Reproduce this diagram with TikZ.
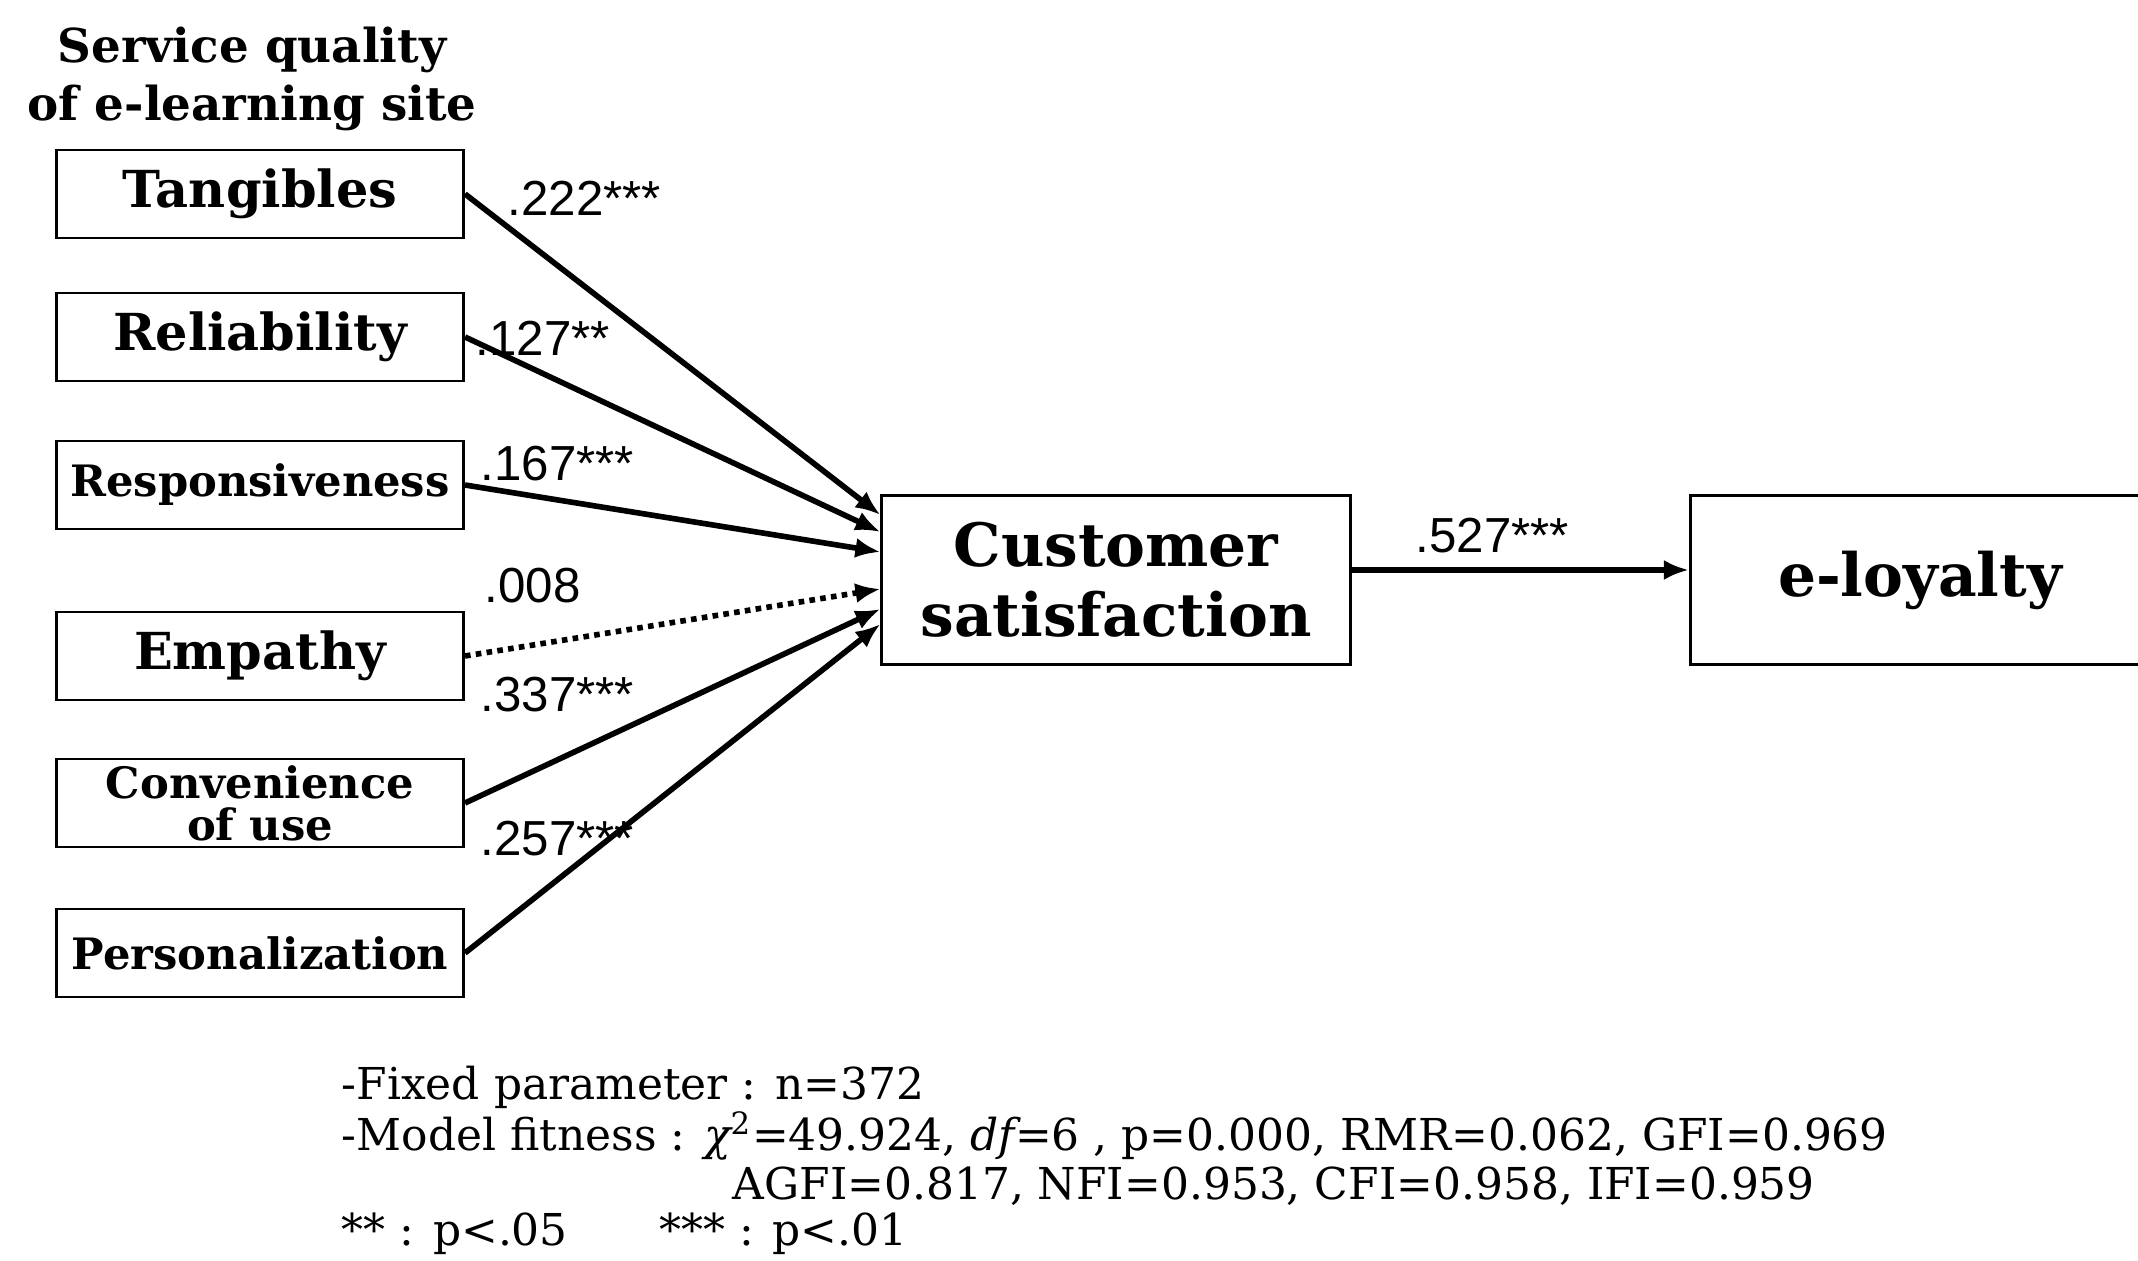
\documentclass[tikz,border=0pt]{standalone}
\usepackage{fontspec}
\newfontfamily\dvserif{DejaVu Serif}
\newfontfamily\lsans{Liberation Sans}
\usetikzlibrary{arrows.meta, positioning}

\begin{document}
\begin{tikzpicture}[
      x=0.01cm, y=-0.01cm,
      box/.style={draw, line width=0.8pt, minimum width=4.07cm, minimum height=0.88cm, inner sep=1pt, align=center, font=\dvserif\bfseries\fontsize{14.5}{14.5}\selectfont},
      narrow/.style={font=\dvserif\bfseries\fontsize{12.3}{12}\selectfont},
      bigbox/.style={draw, line width=0.8pt, minimum height=1.69cm, align=center, font=\dvserif\bfseries\fontsize{17}{20}\selectfont},
      arrow/.style={-{Latex[length=2.5mm, width=2mm]}, line width=1.6pt},
      coef/.style={anchor=west, inner sep=0pt, font=\lsans\fontsize{14}{14}\selectfont},
      note/.style={anchor=west, inner sep=0pt, font=\dvserif\fontsize{12.5}{13}\selectfont}
    ]

    \useasboundingbox (0,0) rectangle (2138,1261);

    \node[align=center, font=\dvserif\bfseries\fontsize{13.3}{16.5}\selectfont] (title) at (252,79) {Service quality\\of e-learning site};

    \node[box] (tan) at (260,194) {Tangibles};
    \node[box] (rel) at (260,337) {Reliability};
    \node[box, narrow] (res) at (260,485) {Responsiveness};
    \node[box] (emp) at (260,656) {Empathy};
    \node[box, narrow] (con) at (260,803) {Convenience\\of use};
    \node[box, narrow] (per) at (260,953) {Personalization};

    \node[bigbox, minimum width=4.68cm] (cs) at (1116,580) {Customer\\satisfaction};
    \node[bigbox, minimum width=4.59cm] (loy) at (1920,580) {e-loyalty};

    \draw[arrow] (tan.east) -- ([yshift=6.5mm]cs.west);
    \draw[arrow] (rel.east) -- ([yshift=4.8mm]cs.west);
    \draw[arrow] (res.east) -- ([yshift=2.8mm]cs.west);
    \draw[arrow, dash pattern=on 1.6pt off 1.5pt] (emp.east) -- ([yshift=-0.9mm]cs.west);
    \draw[arrow] (con.east) -- ([yshift=-2.9mm]cs.west);
    \draw[arrow] (per.east) -- ([yshift=-4.4mm]cs.west);
    \draw[arrow] ([yshift=1mm]cs.east) -- ([yshift=1mm]loy.west);

    \node[coef] (c1) at (507,198) {.222***};
    \node[coef] (c2) at (475,338) {.127**};
    \node[coef] (c3) at (480,464) {.167***};
    \node[coef] (c4) at (484,586) {.008};
    \node[coef] (c5) at (480,695) {.337***};
    \node[coef] (c6) at (480,839) {.257***};
    \node[coef] (c7) at (1415,536) {.527***};

    \node[note] (fix) at (341,1087) {-Fixed parameter : n=372};
    \node[note] (fit) at (341,1136) {-Model fitness : {\itshape χ}\textsuperscript{2}=49.924, {\itshape df}=6 , p=0.000, RMR=0.062, GFI=0.969};
    \node[note] (fit2) at (732,1186) {AGFI=0.817, NFI=0.953, CFI=0.958, IFI=0.959};
    \node[note] (sig) at (341,1234) {** : p<.05\hspace{26pt}*** : p<.01};

\end{tikzpicture}
\end{document}
